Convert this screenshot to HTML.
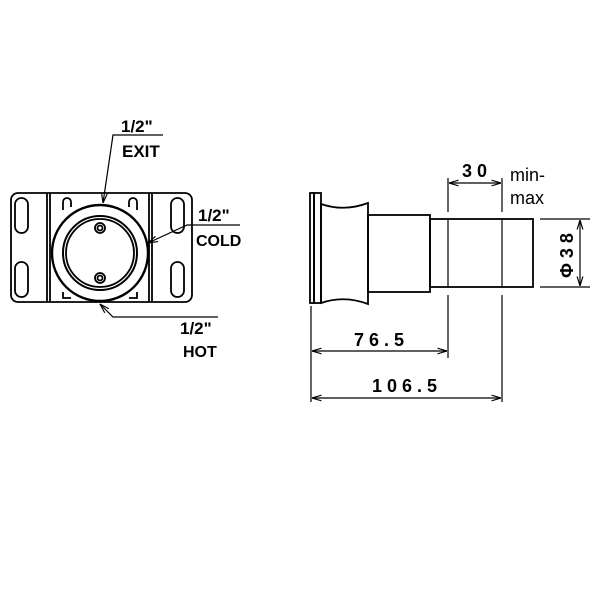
<!DOCTYPE html>
<html><head><style>body{margin:0;background:#fff}</style></head><body>
<svg width="600" height="600" viewBox="0 0 600 600" xmlns="http://www.w3.org/2000/svg" font-family="Liberation Sans, sans-serif" font-weight="bold">
<defs><marker id="a" viewBox="0 0 10 10" refX="10" refY="5" markerWidth="8" markerHeight="8" orient="auto-start-reverse"><path d="M0,2 L10,5 L0,8" fill="none" stroke="#000" stroke-width="1.2"/></marker></defs>
<g fill="none" stroke="#000" stroke-width="1.8">
<rect x="11" y="193" width="181" height="109" rx="7"/>
<line x1="47" y1="193" x2="47" y2="302"/><line x1="50" y1="193" x2="50" y2="302"/>
<line x1="149" y1="193" x2="149" y2="302"/><line x1="152" y1="193" x2="152" y2="302"/>
<rect x="15" y="198" width="13" height="35" rx="6.5"/><rect x="15" y="262" width="13" height="35" rx="6.5"/>
<rect x="171" y="198" width="13" height="35" rx="6.5"/><rect x="171" y="262" width="13" height="35" rx="6.5"/>
<path d="M63,210 l0,-8 a4,4 0 0 1 8,0 l0,5"/><path d="M137,210 l0,-8 a4,4 0 0 0 -8,0 l0,5"/>
<path d="M63,292 l0,6 l8,0"/><path d="M137,292 l0,6 l-8,0"/>
<circle cx="100" cy="253" r="48" fill="#fff" stroke-width="2.4"/>
<circle cx="100" cy="253" r="37" stroke-width="2"/><circle cx="100" cy="253" r="34"/>
<circle cx="100" cy="228" r="5"/><circle cx="100" cy="228" r="2.5"/>
<circle cx="100" cy="278" r="5"/><circle cx="100" cy="278" r="2.5"/>
</g>
<g fill="none" stroke="#000" stroke-width="1.2">
<polyline points="163,135 113,135 103,203" marker-end="url(#a)"/>
<polyline points="240,225 187,225 148,243" marker-end="url(#a)"/>
<polyline points="218,317 113,317 100,304" marker-end="url(#a)"/>
</g>
<g font-size="17" fill="#000">
<text x="121" y="132">1/2"</text><text x="122" y="157">EXIT</text>
<text x="198" y="221">1/2"</text><text x="196" y="246" font-size="16">COLD</text>
<text x="180" y="334">1/2"</text><text x="183" y="357" font-size="16">HOT</text>
</g>
<g fill="none" stroke="#000" stroke-width="1.8">
<rect x="310" y="193" width="4" height="110"/>
<rect x="314" y="193" width="7" height="110"/>
<path d="M321,204 Q344,212 368,203 L368,304 Q344,295 321,303 Z"/>
<rect x="368" y="215" width="62" height="77"/>
<rect x="430" y="219" width="103" height="68"/>
<line x1="448" y1="219" x2="448" y2="287" stroke-width="1.2"/><line x1="502" y1="219" x2="502" y2="287" stroke-width="1.2"/>
</g>
<g fill="none" stroke="#000" stroke-width="1.2">
<line x1="448" y1="178" x2="448" y2="212"/><line x1="502" y1="178" x2="502" y2="212"/>
<line x1="448" y1="295" x2="448" y2="358"/><line x1="502" y1="295" x2="502" y2="402"/>
<line x1="311" y1="306" x2="311" y2="402"/>
<line x1="540" y1="219" x2="590" y2="219"/><line x1="540" y1="287" x2="590" y2="287"/>
<line x1="449" y1="183" x2="501" y2="183" marker-start="url(#a)" marker-end="url(#a)"/>
<line x1="312" y1="351" x2="447" y2="351" marker-start="url(#a)" marker-end="url(#a)"/>
<line x1="312" y1="398" x2="501" y2="398" marker-start="url(#a)" marker-end="url(#a)"/>
<line x1="580" y1="220" x2="580" y2="286" marker-start="url(#a)" marker-end="url(#a)"/>
</g>
<g font-size="18" fill="#000" letter-spacing="5">
<text x="462" y="177">30</text>
<text x="354" y="346">76.5</text>
<text x="372" y="392">106.5</text>
<text transform="translate(573,253) rotate(-90)" text-anchor="middle">Φ38</text>
</g>
<g font-size="18" fill="#000" font-weight="normal">
<text x="510" y="181">min-</text><text x="510" y="204">max</text>
</g>
</svg>
</body></html>
